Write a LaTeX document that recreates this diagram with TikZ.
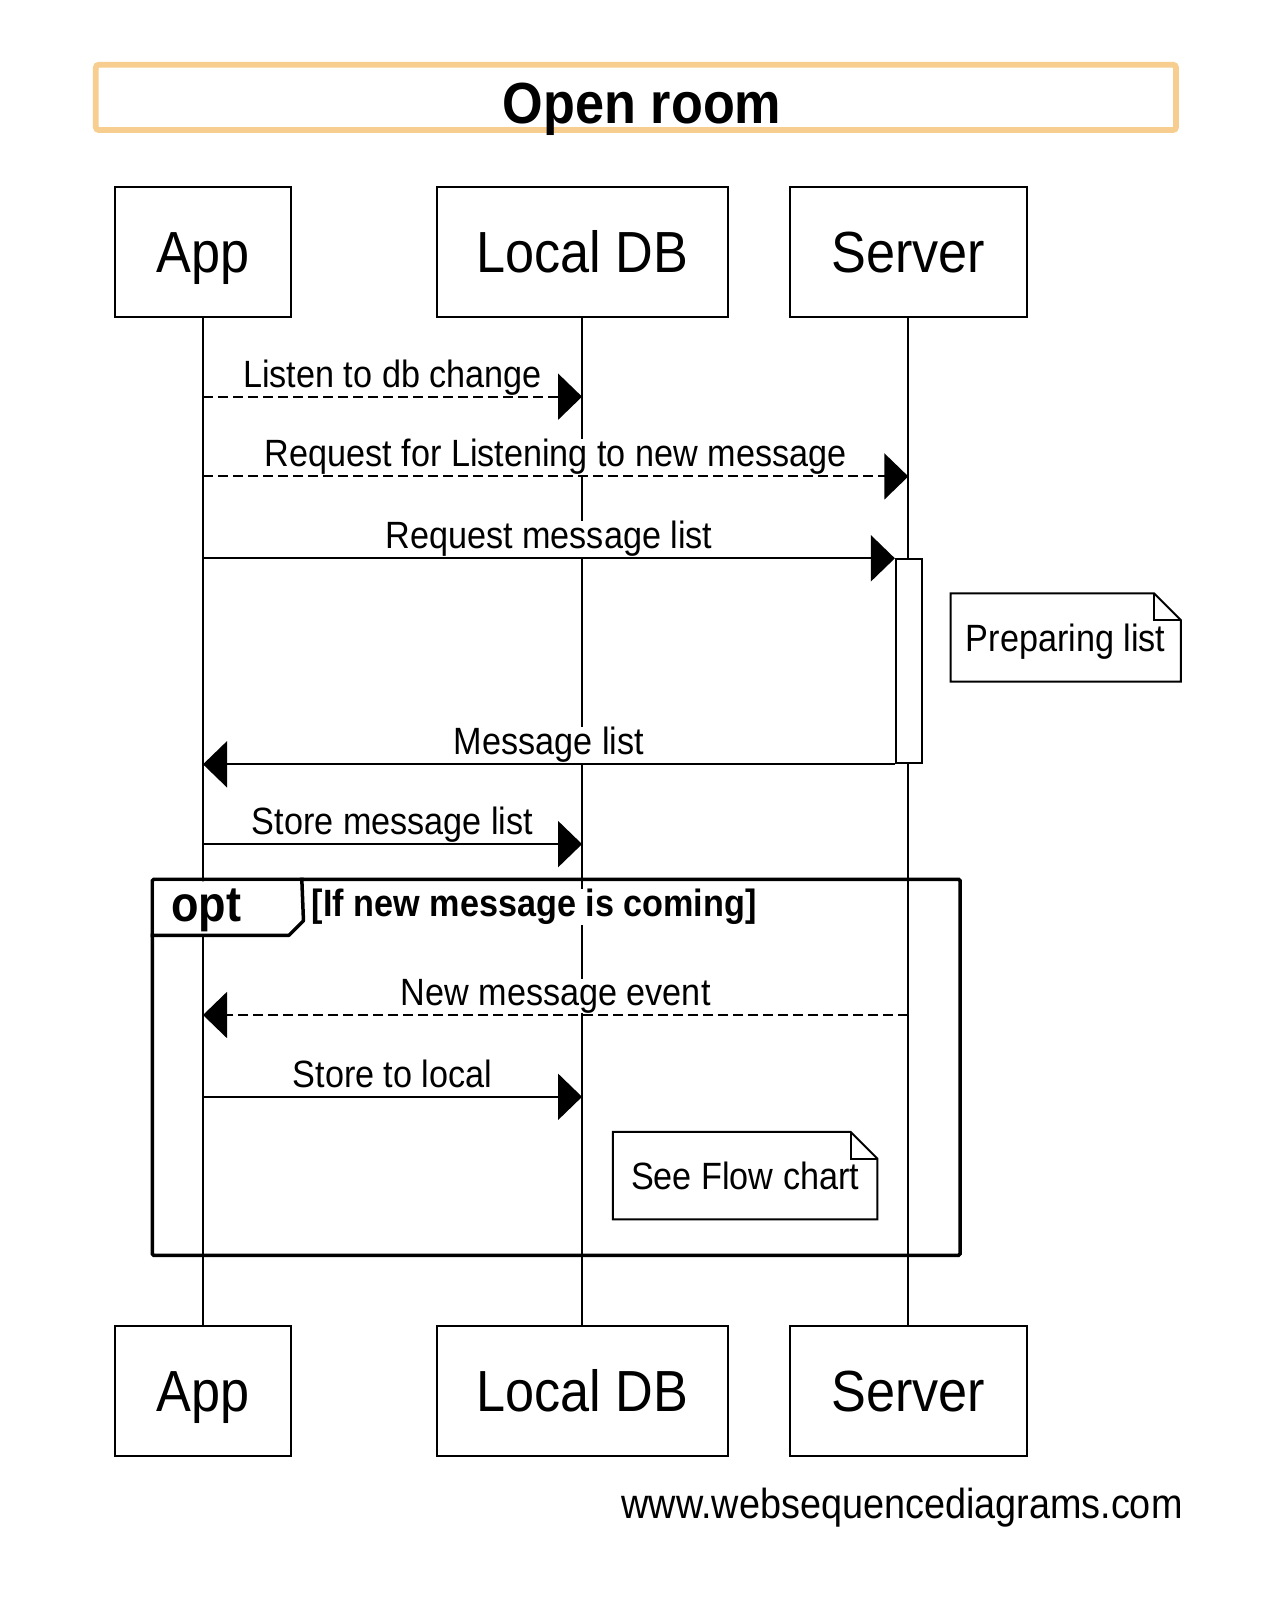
\documentclass[tikz,border=0pt]{standalone}
\usepackage{fontspec}
\setmainfont[FakeStretch=0.9]{Liberation Sans}
\usetikzlibrary{arrows.meta,calc}
\definecolor{titleorange}{RGB}{247,206,143}

\begin{document}
\begin{tikzpicture}[x=1.0357pt, y=-1.0357pt,
    partbox/.style={draw, line width=2pt, minimum height=129.5pt, inner sep=0pt,
      text height=41.5pt, text depth=0pt, font=\fontsize{58}{60}\selectfont},
    lifeline/.style={line width=2pt},
    msg/.style={line width=2pt, -{Triangle[length=24pt,width=46pt]}},
    async/.style={msg, dash pattern=on 10pt off 5pt},
    lbl/.style={midway, anchor=base, yshift=9.5pt, fill=white, inner sep=0pt,
      font=\fontsize{38}{40}\selectfont},
    notebox/.style={inner sep=0pt, text height=27.2pt, text depth=0pt,
      font=\fontsize{38}{40}\selectfont},
    optframe/.style={draw, line width=3.5pt, inner sep=0pt, rounded corners=1.5pt}]
    % canvas
    \path[fill=white, use as bounding box] (0,0) rectangle (1234,1568);

    % title
    \node[draw=titleorange, line width=5.8pt, rounded corners=3pt, inner sep=0pt,
      minimum width=1080.2pt, minimum height=65.2pt] (titlebox) at (614,94) {};
    \node[inner sep=0pt, text height=41.5pt, text depth=0pt,
      font=\bfseries\fontsize{58}{60}\selectfont] (titletxt) at (620,99.5) {Open room};

    % participants
    \node[partbox, minimum width=176.1pt] (app) at (196,243.5) {App};
    \node[partbox, minimum width=291.0pt] (db)  at (562,243.5) {Local DB};
    \node[partbox, minimum width=237.2pt] (srv) at (877,243.5) {Server};
    \node[partbox, minimum width=176.1pt] (app2) at (196,1343) {App};
    \node[partbox, minimum width=291.0pt] (db2)  at (562,1343) {Local DB};
    \node[partbox, minimum width=237.2pt] (srv2) at (877,1343) {Server};

    % lifelines
    \draw[lifeline] (app) -- (app2);
    \draw[lifeline] (db) -- (db2);
    \draw[lifeline] (srv) -- (srv2);

    % activation on server
    \node[draw, fill=white, line width=2pt, inner sep=0pt,
      minimum width=25.9pt, minimum height=204pt] (act) at (877.5,638.5) {};

    % messages
    \draw[async] (app |- 0,383) -- node[lbl] {Listen to db change} (db |- 0,383);
    \draw[async] (app |- 0,460) -- node[lbl] {Request for Listening to new message} (srv |- 0,460);
    \draw[msg] (app |- act.north) -- node[lbl] {Request message list} (act.north west);
    \draw[msg] (act.south west) -- node[lbl] {Message list} (app |- act.south);
    \draw[msg] (app |- 0,815) -- node[lbl] {Store message list} (db |- 0,815);

    % note
    \node[notebox, minimum width=229.9pt, minimum height=88pt] (prep) at (1029,615.5) {Preparing list};
    \draw[line width=2pt] (prep.north west) -- ($(prep.north east)+(-26,0)$)
      -- ($(prep.north east)+(0,26)$) -- (prep.south east) -- (prep.south west) -- cycle;
    \draw[line width=2pt] ($(prep.north east)+(-26,0)$) |- ($(prep.north east)+(0,26)$);

    % opt fragment
    \node[optframe, minimum width=807.8pt, minimum height=376pt] (opt) at (537,1030.5) {};
    \fill[white] (149,851) -| (292,889) -- (279,902) -- (149,902) -- cycle;
    \draw[line width=3.5pt, line join=round] ($(opt.north west)+(146,0)$) -- (293,889)
      -- (279,903) -- (opt.west |- 0,903);
    \node[anchor=base west, inner sep=0pt, font=\bfseries\fontsize{50}{52}\selectfont] (optlbl) at (165,890) {opt};
    \node[anchor=base west, fill=white, inner sep=0pt, font=\bfseries\fontsize{38}{40}\selectfont] (cond) at (301,885) {[If new message is coming]};

    \draw[async] (srv |- 0,980) -- node[lbl] {New message event} (app |- 0,980);
    \draw[msg] (app |- 0,1059) -- node[lbl] {Store to local} (db |- 0,1059);

    \node[notebox, minimum width=264.1pt, minimum height=87pt] (flow) at (719.5,1135) {See Flow chart};
    \draw[line width=2pt] (flow.north west) -- ($(flow.north east)+(-26,0)$)
      -- ($(flow.north east)+(0,26)$) -- (flow.south east) -- (flow.south west) -- cycle;
    \draw[line width=2pt] ($(flow.north east)+(-26,0)$) |- ($(flow.north east)+(0,26)$);

    % footer
    \node[anchor=base east, inner sep=0pt, font=\fontsize{42}{44}\selectfont] (wsd) at (1142,1466) {www.websequencediagrams.com};
\end{tikzpicture}
\end{document}
